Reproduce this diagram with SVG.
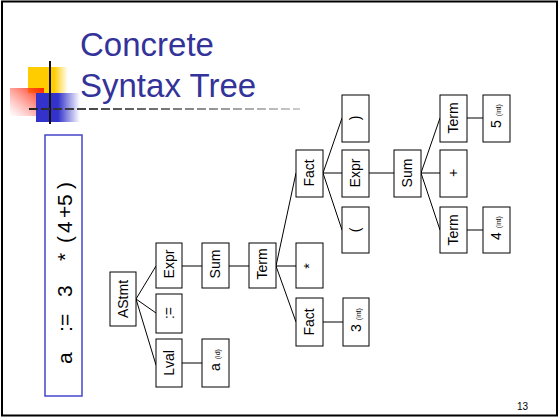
<svg xmlns="http://www.w3.org/2000/svg" width="560" height="418" viewBox="0 0 560 418">
<defs>
<style>
.n rect{fill:#fff;stroke:#000;stroke-width:1}
.n text{font-family:"Liberation Sans",Arial,sans-serif;font-size:14px;fill:#000;text-anchor:middle}
.s{font-size:7px}
#edges line{stroke:#000;stroke-width:1}
.title{font-family:"Liberation Sans",Arial,sans-serif;font-size:33px;fill:#333399}
</style>
<linearGradient id="gy" x1="0" y1="0" x2="1" y2="0">
<stop offset="0.65" stop-color="#ffcc00"/><stop offset="1" stop-color="#ffcc00" stop-opacity="0"/>
</linearGradient>
<linearGradient id="gb" x1="0" y1="0" x2="1" y2="0">
<stop offset="0.5" stop-color="#3333cc"/><stop offset="1" stop-color="#3333cc" stop-opacity="0"/>
</linearGradient>
<linearGradient id="gr" x1="1" y1="0" x2="0" y2="1">
<stop offset="0" stop-color="#ff2200"/><stop offset="1" stop-color="#ff6666" stop-opacity="0"/>
</linearGradient>
<linearGradient id="gd" gradientUnits="userSpaceOnUse" x1="29" y1="109" x2="300" y2="109">
<stop offset="0" stop-color="#222"/><stop offset="1" stop-color="#ccc"/>
</linearGradient>
</defs>
<rect x="2" y="1.5" width="555" height="414" fill="#fff" stroke="#000" stroke-width="2"/>
<g id="decoration">
<rect x="28" y="67" width="40" height="26" fill="url(#gy)"/>
<rect x="10" y="88" width="34" height="28" fill="url(#gr)"/>
<rect x="36" y="93" width="44" height="29" fill="url(#gb)"/>
<line x1="50" y1="61" x2="50" y2="124" stroke="#111" stroke-width="2"/>
<line x1="29" y1="109" x2="300" y2="109" stroke="url(#gd)" stroke-width="2" stroke-dasharray="9 3"/>
</g>
<text class="title" x="80" y="56">Concrete</text>
<text class="title" x="80" y="97">Syntax Tree</text>
<g id="expression">
<rect x="45" y="135" width="37" height="261" fill="#fff" stroke="#4444cc" stroke-width="1.5"/>
<text transform="translate(72,365) rotate(-90)" font-family="Liberation Sans,Arial,sans-serif" font-size="21" fill="#000" x="1 33 39 68 104 122 132 147 159 176">a:=3*(4+5)</text>
</g>
<g id="edges">
<line x1="136" y1="299" x2="156" y2="266"/>
<line x1="136" y1="299" x2="156" y2="313"/>
<line x1="136" y1="299" x2="156" y2="365"/>
<line x1="182" y1="266" x2="202" y2="266"/>
<line x1="229" y1="266" x2="249" y2="266"/>
<line x1="182" y1="363" x2="202" y2="363"/>
<line x1="276" y1="266" x2="296" y2="173"/>
<line x1="276" y1="266" x2="296" y2="266"/>
<line x1="276" y1="266" x2="296" y2="322"/>
<line x1="323" y1="173" x2="342" y2="118"/>
<line x1="323" y1="173" x2="342" y2="173"/>
<line x1="323" y1="173" x2="342" y2="230"/>
<line x1="369" y1="173" x2="394" y2="173"/>
<line x1="421" y1="173" x2="440" y2="118"/>
<line x1="421" y1="173" x2="440" y2="173"/>
<line x1="421" y1="173" x2="440" y2="230"/>
<line x1="467" y1="118" x2="483" y2="118"/>
<line x1="467" y1="230" x2="483" y2="230"/>
<line x1="323" y1="322" x2="343" y2="322"/>
</g>
<g id="astmt" class="n"><rect x="110" y="272" width="26" height="54"/><text transform="translate(128,299) rotate(-90)">AStmt</text></g>
<g id="expr1" class="n"><rect x="156" y="243" width="26" height="45"/><text transform="translate(174,264) rotate(-90)">Expr</text></g>
<g id="assign" class="n"><rect x="156" y="294" width="26" height="39"/><text transform="translate(174,313) rotate(-90)">:=</text></g>
<g id="lval" class="n"><rect x="156" y="339" width="26" height="48"/><text transform="translate(174,363) rotate(-90)">Lval</text></g>
<g id="aid" class="n"><rect x="202" y="339" width="27" height="48"/><text transform="translate(220,360) rotate(-90)">a <tspan class="s">(id)</tspan></text></g>
<g id="sum1" class="n"><rect x="202" y="243" width="27" height="45"/><text transform="translate(220,264) rotate(-90)">Sum</text></g>
<g id="term1" class="n"><rect x="249" y="243" width="27" height="45"/><text transform="translate(267,264) rotate(-90)">Term</text></g>
<g id="fact1" class="n"><rect x="296" y="150" width="27" height="47"/><text transform="translate(314,173) rotate(-90)">Fact</text></g>
<g id="star" class="n"><rect x="296" y="243" width="27" height="45"/><text transform="translate(314,266) rotate(-90)">*</text></g>
<g id="fact2" class="n"><rect x="296" y="298" width="27" height="48"/><text transform="translate(314,322) rotate(-90)">Fact</text></g>
<g id="rparen" class="n"><rect x="342" y="95" width="27" height="47"/><text transform="translate(360,118) rotate(-90)">)</text></g>
<g id="expr2" class="n"><rect x="342" y="150" width="27" height="47"/><text transform="translate(360,173) rotate(-90)">Expr</text></g>
<g id="lparen" class="n"><rect x="342" y="207" width="27" height="46"/><text transform="translate(360,230) rotate(-90)">(</text></g>
<g id="int3" class="n"><rect x="343" y="298" width="26" height="48"/><text transform="translate(361,320) rotate(-90)">3 <tspan class="s">(int)</tspan></text></g>
<g id="sum2" class="n"><rect x="394" y="150" width="27" height="47"/><text transform="translate(412,173) rotate(-90)">Sum</text></g>
<g id="term2" class="n"><rect x="440" y="95" width="27" height="47"/><text transform="translate(458,118) rotate(-90)">Term</text></g>
<g id="plus" class="n"><rect x="440" y="150" width="27" height="47"/><text transform="translate(458,173) rotate(-90)">+</text></g>
<g id="term3" class="n"><rect x="440" y="207" width="27" height="46"/><text transform="translate(458,230) rotate(-90)">Term</text></g>
<g id="int5" class="n"><rect x="483" y="95" width="27" height="47"/><text transform="translate(501,116) rotate(-90)">5 <tspan class="s">(int)</tspan></text></g>
<g id="int4" class="n"><rect x="483" y="207" width="27" height="46"/><text transform="translate(501,228) rotate(-90)">4 <tspan class="s">(int)</tspan></text></g>
<text x="517" y="410" font-family="Liberation Sans,Arial,sans-serif" font-size="10" fill="#000">13</text>
</svg>
